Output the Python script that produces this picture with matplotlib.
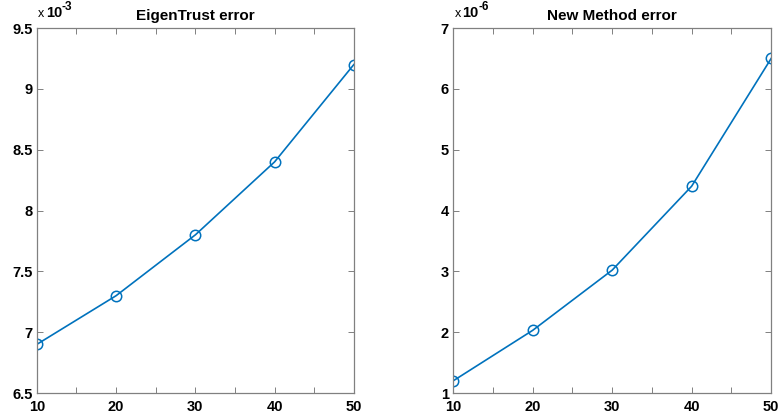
import matplotlib
matplotlib.use("Agg")
import matplotlib.pyplot as plt
from matplotlib.ticker import MultipleLocator

plt.rcParams['font.family'] = ['Liberation Sans', 'DejaVu Sans']

nodes = [10, 20, 30, 40, 50]
eigentrust_err = [6.9, 7.3, 7.8, 8.4, 9.2]      # x 1e-3
newmethod_err = [1.2, 2.03, 3.02, 4.4, 6.5]     # x 1e-6

line_color = '#0072BD'
axis_color = '#808080'
text_color = '#000000'

fig = plt.figure(figsize=(7.84, 4.19), dpi=100)
ax1 = fig.add_axes([0.047, 0.062, 0.4043, 0.871])
ax2 = fig.add_axes([0.578, 0.062, 0.4056, 0.871])

panels = [
    (ax1, eigentrust_err, 'EigenTrust error', (6.5, 9.5), 0.5, '-3'),
    (ax2, newmethod_err, 'New Method error', (1, 7), 1, '-6'),
]

for ax, vals, title, ylim, ystep, exp in panels:
    ax.plot(nodes, vals, color=line_color, linewidth=1.2, marker='o',
            markersize=7.5, markerfacecolor='none', markeredgecolor=line_color,
            markeredgewidth=1.1)
    ax.set_xlim(10, 50)
    ax.set_ylim(*ylim)
    ax.xaxis.set_major_locator(MultipleLocator(10))
    ax.xaxis.set_minor_locator(MultipleLocator(5))
    ax.yaxis.set_major_locator(MultipleLocator(ystep))
    for s in ax.spines.values():
        s.set_color(axis_color)
        s.set_linewidth(0.9)
    ax.tick_params(which='both', direction='in', top=True, right=True,
                   color=axis_color, width=0.7)
    ax.tick_params(which='major', length=4, labelsize=10.5, pad=3,
                   labelcolor=text_color)
    ax.tick_params(axis='x', which='major', pad=5)
    ax.tick_params(which='minor', length=4)
    for lbl in ax.get_xticklabels() + ax.get_yticklabels():
        lbl.set_fontweight('bold')
    ax.yaxis.set_major_formatter(plt.FuncFormatter(lambda v, p: '%g' % v))
    ax.set_title(title, fontsize=11, fontweight='bold', pad=6)

    # scale factor above the y axis: small "x", bold "10", raised exponent
    ax.annotate('x', xy=(0, 1), xycoords='axes fraction',
                xytext=(1, 6), textcoords='offset points',
                fontsize=9, ha='left', va='bottom')
    ax.annotate('10', xy=(0, 1), xycoords='axes fraction',
                xytext=(6.5, 6), textcoords='offset points',
                fontsize=10.5, fontweight='bold', ha='left', va='bottom')
    ax.annotate(exp, xy=(0, 1), xycoords='axes fraction',
                xytext=(18, 10.5), textcoords='offset points',
                fontsize=8.5, fontweight='bold', ha='left', va='bottom')

fig.savefig('out.png', dpi=100)
